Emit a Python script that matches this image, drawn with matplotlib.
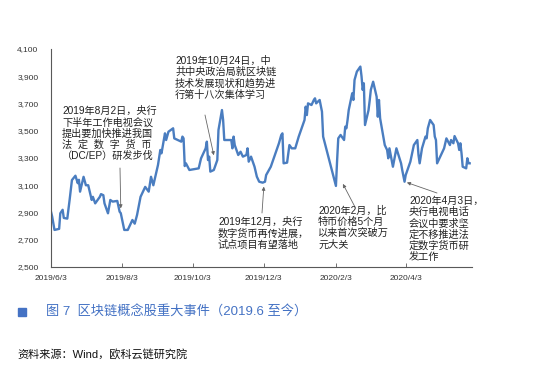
import pandas as pd
import matplotlib.pyplot as plt
from matplotlib.patches import Rectangle

plt.rcParams['font.family'] = ['Liberation Sans', 'Noto Sans CJK SC', 'DejaVu Sans']

#data
dates = [
    "2019-06-03", "2019-06-04", "2019-06-06", "2019-06-10", "2019-06-11", "2019-06-13", "2019-06-14",
    "2019-06-17", "2019-06-19", "2019-06-21", "2019-06-24", "2019-06-26", "2019-06-27", "2019-06-28",
    "2019-07-01", "2019-07-03", "2019-07-05", "2019-07-08", "2019-07-09", "2019-07-11", "2019-07-15",
    "2019-07-16", "2019-07-18", "2019-07-19", "2019-07-22", "2019-07-24", "2019-07-26", "2019-07-30",
    "2019-08-01", "2019-08-02", "2019-08-05", "2019-08-08", "2019-08-12", "2019-08-14", "2019-08-16",
    "2019-08-19", "2019-08-23", "2019-08-26", "2019-08-28", "2019-08-30", "2019-09-02", "2019-09-03",
    "2019-09-05", "2019-09-06", "2019-09-09", "2019-09-10", "2019-09-12", "2019-09-16", "2019-09-17",
    "2019-09-20", "2019-09-23", "2019-09-24", "2019-09-25", "2019-09-26", "2019-09-27", "2019-09-30",
    "2019-10-08", "2019-10-10", "2019-10-14", "2019-10-15", "2019-10-16", "2019-10-17", "2019-10-18",
    "2019-10-21", "2019-10-23", "2019-10-24", "2019-10-25", "2019-10-28", "2019-10-29", "2019-10-30",
    "2019-11-04", "2019-11-05", "2019-11-06", "2019-11-07", "2019-11-08", "2019-11-11", "2019-11-13",
    "2019-11-15", "2019-11-18", "2019-11-19", "2019-11-20", "2019-11-22", "2019-11-25", "2019-11-27",
    "2019-11-29", "2019-12-02", "2019-12-04", "2019-12-05", "2019-12-09", "2019-12-11", "2019-12-13",
    "2019-12-16", "2019-12-18", "2019-12-19", "2019-12-20", "2019-12-23", "2019-12-25", "2019-12-26",
    "2019-12-27", "2019-12-30", "2020-01-02", "2020-01-06", "2020-01-07", "2020-01-08", "2020-01-09",
    "2020-01-10", "2020-01-13", "2020-01-15", "2020-01-16", "2020-01-17", "2020-01-20", "2020-01-22",
    "2020-01-23", "2020-02-03", "2020-02-04", "2020-02-05", "2020-02-07", "2020-02-10", "2020-02-11",
    "2020-02-12", "2020-02-13", "2020-02-14", "2020-02-17", "2020-02-18", "2020-02-19", "2020-02-21",
    "2020-02-24", "2020-02-25", "2020-02-26", "2020-02-27", "2020-02-28", "2020-03-02", "2020-03-03",
    "2020-03-04", "2020-03-06", "2020-03-09", "2020-03-10", "2020-03-11", "2020-03-12", "2020-03-16",
    "2020-03-18", "2020-03-19", "2020-03-20", "2020-03-23", "2020-03-26", "2020-03-30", "2020-03-31",
    "2020-04-02", "2020-04-03", "2020-04-07", "2020-04-10", "2020-04-13", "2020-04-14", "2020-04-15",
    "2020-04-17", "2020-04-20", "2020-04-21", "2020-04-22", "2020-04-24", "2020-04-27", "2020-04-28",
    "2020-04-29", "2020-04-30", "2020-05-06", "2020-05-07", "2020-05-08", "2020-05-11", "2020-05-12",
    "2020-05-14", "2020-05-15", "2020-05-18", "2020-05-19", "2020-05-20", "2020-05-21", "2020-05-22",
    "2020-05-25", "2020-05-26", "2020-05-27", "2020-05-28",
]
values = [
    2906, 2870, 2772, 2780, 2894, 2920, 2860,
    2855, 2992, 3138, 3170, 3115, 3140, 3053,
    3162, 3100, 3100, 2992, 3015, 2967, 3015,
    3035, 3027, 2967, 2894, 2992, 2980, 2985,
    2906, 2895, 2772, 2772, 2845, 2818, 2882,
    3015, 3088, 3053, 3162, 3100, 3212, 3249,
    3359, 3334, 3481, 3432, 3493, 3518, 3444,
    3432, 3420, 3457, 3444, 3241, 3261, 3212,
    3224, 3297, 3371, 3420, 3285, 3310, 3200,
    3212, 3261, 3285, 3505, 3652, 3579, 3432,
    3432, 3432, 3371, 3457, 3395, 3322, 3346,
    3310, 3322, 3371, 3273, 3310, 3236, 3163,
    3126, 3119, 3126, 3175, 3236, 3285, 3334,
    3408, 3469, 3481, 3261, 3266, 3395, 3383,
    3371, 3371, 3457, 3554, 3579, 3677, 3615,
    3701, 3689, 3726, 3738, 3701, 3726, 3640,
    3457, 3095, 3280, 3444, 3469, 3432, 3530,
    3518, 3579, 3652, 3775, 3726, 3873, 3934,
    3971, 3900, 3800, 3848, 3542, 3650, 3720,
    3800, 3860, 3750, 3603, 3726, 3591, 3395,
    3359, 3298, 3371, 3236, 3371, 3261, 3212,
    3126, 3175, 3273, 3395, 3432, 3322, 3261,
    3371, 3457, 3444, 3518, 3579, 3542, 3457,
    3432, 3261, 3371, 3408, 3444, 3395, 3432,
    3408, 3461, 3408, 3359, 3408, 3334, 3236,
    3224, 3298, 3261, 3261,
]
tick_dates = ["2019-06-03", "2019-08-03", "2019-10-03", "2019-12-03", "2020-02-03", "2020-04-03"]
tick_labels = ["2019/6/3", "2019/8/3", "2019/10/3", "2019/12/3", "2020/2/3", "2020/4/3"]

#annotations: text, text top-left (figure pixels), arrow tail (figure pixels), arrow tip (data)
notes = [
    ("2019年8月2日，央行\n下半年工作电视会议\n提出要加快推进我国\n法  定  数  字  货  币\n（DC/EP）研发步伐",
     (62, 265), (120, 203), ("2019-08-02", 2930)),
    ("2019年10月24日，中\n共中央政治局就区块链\n技术发展现状和趋势进\n行第十八次集体学习",
     (175, 315), (205, 256), ("2019-10-21", 3320)),
    ("2019年12月，央行\n数字货币再传进展，\n试点项目有望落地",
     (218, 154), (262, 158), ("2019-12-03", 3090)),
    ("2020年2月，比\n特币价格5个月\n以来首次突破万\n元大关",
     (318, 165), (355, 164), ("2020-02-09", 3110)),
    ("2020年4月3日，\n央行电视电话\n会议中要求坚\n定不移推进法\n定数字货币研\n发工作",
     (409, 175), (437, 178), ("2020-04-04", 3120)),
]

df = pd.DataFrame({"date": pd.to_datetime(dates), "value": values})

fig = plt.figure(figsize=(5.5, 3.71), dpi=100)
ax = fig.add_axes([51 / 550, 104 / 371, 421 / 550, 218 / 371])
ax.plot(df["date"], df["value"], color="#4A7DC0", lw=1.7)

ax.set_ylim(2500, 4100)
ax.set_yticks(range(2500, 4101, 200))
ax.yaxis.set_major_formatter(plt.FuncFormatter(lambda v, p: f"{int(v):,}"))
ax.set_xlim(pd.Timestamp("2019-06-03"), pd.Timestamp("2020-05-30"))
ax.set_xticks(pd.to_datetime(tick_dates))
ax.set_xticklabels(tick_labels)

for s in ["top", "right"]:
    ax.spines[s].set_visible(False)
for s in ["left", "bottom"]:
    ax.spines[s].set_color("#595959")
    ax.spines[s].set_linewidth(0.8)
ax.tick_params(axis="x", labelsize=6, colors="#595959", labelcolor="#333333",
               direction="in", length=3, width=0.6, pad=6)
ax.tick_params(axis="y", labelsize=6, labelcolor="#333333", length=0, pad=9)

for txt, tpos, tail, tip in notes:
    fig.text(tpos[0] / 550, tpos[1] / 371, txt, ha="left", va="top", fontsize=7.3,
             color="#222222", linespacing=1.12)
    ax.annotate("", xy=(pd.Timestamp(tip[0]), tip[1]), xycoords="data",
                xytext=(tail[0], tail[1]), textcoords="figure pixels",
                arrowprops=dict(arrowstyle="-|>", color="#666666", lw=0.6,
                                mutation_scale=5, shrinkA=0, shrinkB=0))

#caption
fig.patches.append(Rectangle((18 / 550, 55 / 371), 8 / 550, 8 / 371, transform=fig.transFigure,
                             color="#4472C4"))
fig.text(46 / 550, 59 / 371, "图 7  区块链概念股重大事件（2019.6 至今）", ha="left", va="center",
         fontsize=9.5, color="#4472C4")
fig.text(17 / 550, 17 / 371, "资料来源：Wind，欧科云链研究院", ha="left", va="center",
         fontsize=8, color="#111111")

fig.savefig("out.png", dpi=100)
